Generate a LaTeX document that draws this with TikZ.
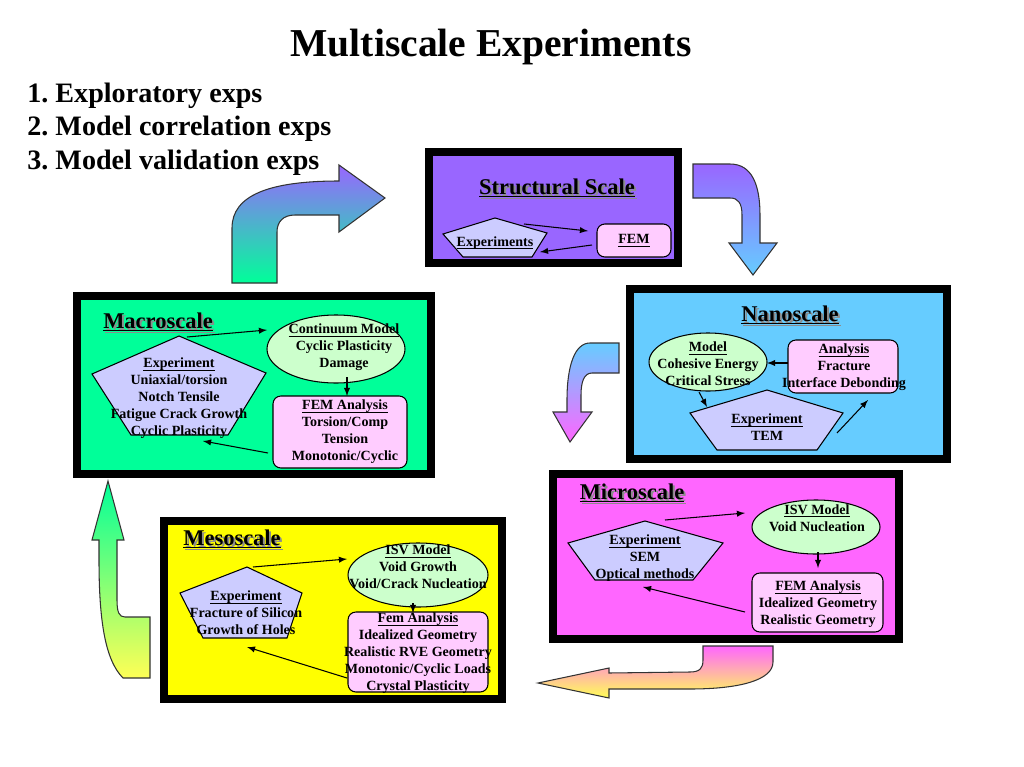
\documentclass[tikz,border=0pt]{standalone}
\usepackage{fontspec}
\setmainfont{Liberation Serif}
\frenchspacing
\definecolor{purp}{HTML}{9966FF}
\definecolor{nano}{HTML}{66CCFF}
\definecolor{macro}{HTML}{00FF99}
\definecolor{micro}{HTML}{FF66FF}
\definecolor{meso}{HTML}{FFFF00}
\definecolor{pent}{HTML}{CCCCFF}
\definecolor{ellc}{HTML}{CCFFCC}
\definecolor{boxc}{HTML}{FFCCFF}
\definecolor{lyel}{HTML}{FFFF55}
\newcommand{\boxfont}{\fontsize{8}{9.64}\selectfont\bfseries}
\newcommand{\ul}[1]{\underline{\smash{#1}}\vphantom{#1}}
\tikzset{
  txt/.style={align=center,font=\boxfont,inner sep=0pt},
  ttl/.style={font=\fontsize{12.8}{14}\selectfont\bfseries,inner sep=0pt},
  shd/.style={ttl,text=black!45},
  ell/.style={draw,fill=ellc,line width=0.6pt},
  rbox/.style={draw,fill=boxc,rounded corners=4.5pt,line width=0.6pt},
  pbox/.style={draw,fill=pent,line width=0.6pt},
  arr/.style={-latex,line width=0.6pt},
  bent/.style={draw=black!80,line width=0.6pt}
}
\begin{document}
\begin{tikzpicture}[x=0.02cm,y=-0.02cm]
\useasboundingbox (0,0) rectangle (1024,767);
\node[font=\fontsize{22.5}{26}\selectfont\bfseries] (title) at (491,47) {Multiscale Experiments};
\node[anchor=west,align=left,inner sep=0pt,font=\fontsize{16}{19}\selectfont\bfseries] (list) at (27,129) {1. Exploratory exps\\2. Model correlation exps\\3. Model validation exps};
% bent arrows
\shadedraw[bent,top color=purp,bottom color=macro] (232,283) -- (232,228) .. controls (232,195) and (270,181) .. (339,181) -- (339,165) -- (385,198) -- (339,232) -- (339,215) -- (295,215) .. controls (283,215) and (277,222) .. (277,232) -- (277,283) -- cycle;
\shadedraw[bent,top color=purp,bottom color=nano] (693,164) -- (730,164) .. controls (752,164) and (760,185) .. (760,215) -- (760,243) -- (777,243) -- (753,275) -- (729,243) -- (742,243) -- (742,215) .. controls (742,203) and (738,198) .. (730,198) -- (693,198) -- cycle;
\shadedraw[bent,top color=nano,bottom color=micro] (619,343) -- (590,343) .. controls (575,343) and (567,365) .. (567,400) -- (567,412) -- (553,412) -- (570,442) -- (592,412) -- (581,412) -- (581,395) .. controls (581,382) and (584,373) .. (592,373) -- (619,373) -- cycle;
\shadedraw[bent,top color=micro,bottom color=lyel] (703,646) -- (773,646) -- (773,662) .. controls (773,680) and (740,689) .. (690,689) -- (609,689) -- (609,698) -- (538,683) -- (609,668) -- (609,673) -- (690,672) .. controls (700,672) and (703,668) .. (703,660) -- cycle;
\shadedraw[bent,top color=macro,bottom color=lyel] (123,678) .. controls (105,660) and (99,620) .. (99,560) -- (99,540) -- (92,540) -- (108,481) -- (124,540) -- (117,540) -- (117,600) .. controls (117,612) and (119,617) .. (125,617) -- (150,617) -- (150,678) -- cycle;
% structural scale
\fill (425,148) rectangle (682,267);
\fill[purp] (433,156) rectangle (674,259);
\node[shd] at (559,190) {\ul{Structural Scale}};
\node[ttl] (st) at (557,188) {\ul{Structural Scale}};
\draw[pbox] (495,218) -- (547,233) -- (532,257) -- (463,257) -- (443,234) -- cycle;
\node[txt] (se) at (495,243) {\ul{Experiments}};
\draw[rbox] (597,224) rectangle (671,257);
\node[txt] (sf) at (634,241) {\ul{FEM}};
\coordinate (s1) at (524,224); \coordinate (s2) at (588,231);
\coordinate (s3) at (592,245); \coordinate (s4) at (540,252);
\draw[arr] (s1) -- (s2); \draw[arr] (s3) -- (s4);
% macroscale
\fill (73,292) rectangle (435,478);
\fill[macro] (81,300) rectangle (427,470);
\node[shd] at (160,324) {\ul{Macroscale}};
\node[ttl] (mt) at (158,322) {\ul{Macroscale}};
\draw[pbox] (179,336) -- (266,373) -- (228,435) -- (131,435) -- (92,374) -- cycle;
\node[txt] (me) at (179,398) {\ul{Experiment}\\Uniaxial/torsion\\Notch Tensile\\Fatigue Crack Growth\\Cyclic Plasticity};
\draw[ell] (336,349) ellipse [x radius=69,y radius=34];
\node[txt] (mm) at (344,347) {\ul{Continuum Model}\\Cyclic Plasticity\\Damage};
\draw[rbox] (273,396) rectangle (407,468);
\node[txt] (mf) at (345,432) {\ul{FEM Analysis}\\Torsion/Comp\\Tension\\Monotonic/Cyclic};
\coordinate (m1) at (187,337); \coordinate (m2) at (267,330);
\coordinate (m3) at (347,377); \coordinate (m4) at (347,396);
\coordinate (m5) at (268,453); \coordinate (m6) at (203,441);
\draw[arr] (m1) -- (m2); \draw[arr] (m3) -- (m4); \draw[arr] (m5) -- (m6);
% nanoscale
\fill (626,285) rectangle (951,463);
\fill[nano] (634,293) rectangle (943,455);
\node[shd] at (792,317) {\ul{Nanoscale}};
\node[ttl] (nt) at (790,315) {\ul{Nanoscale}};
\draw[ell] (708,362) ellipse [x radius=59,y radius=29];
\node[txt] (nm) at (708,364) {\ul{Model}\\Cohesive Energy\\Critical Stress};
\draw[rbox] (788,340) rectangle (898,393);
\node[txt] (na) at (844,367) {\ul{Analysis}\\Fracture\\Interface Debonding};
\draw[pbox] (767,390) -- (843,413) -- (817,450) -- (717,450) -- (690,413) -- cycle;
\node[txt] (ne) at (767,427) {\ul{Experiment}\\TEM};
\coordinate (n1) at (788,363); \coordinate (n2) at (767,363);
\coordinate (n3) at (699,392); \coordinate (n4) at (707,407);
\coordinate (n5) at (837,433); \coordinate (n6) at (868,400);
\draw[arr] (n1) -- (n2); \draw[arr] (n3) -- (n4); \draw[arr] (n5) -- (n6);
% microscale
\fill (549,470) rectangle (903,643);
\fill[micro] (557,478) rectangle (895,635);
\node[shd] at (634,495) {\ul{Microscale}};
\node[ttl] (it) at (632,493) {\ul{Microscale}};
\draw[ell] (816,527) ellipse [x radius=64,y radius=27];
\node[txt] (im) at (817,518) {\ul{ISV Model}\\Void Nucleation};
\draw[rbox] (752,573) rectangle (883,632);
\node[txt] (if) at (818,604) {\ul{FEM Analysis}\\Idealized Geometry\\Realistic Geometry};
\draw[pbox] (645,521) -- (723,543) -- (693,580) -- (595,580) -- (568,543) -- cycle;
\node[txt] (ie) at (645,558) {\ul{Experiment}\\SEM\\Optical methods};
\coordinate (i1) at (665,520); \coordinate (i2) at (745,513);
\coordinate (i3) at (818,552); \coordinate (i4) at (818,568);
\coordinate (i5) at (745,612); \coordinate (i6) at (643,587);
\draw[arr] (i1) -- (i2); \draw[arr] (i3) -- (i4); \draw[arr] (i5) -- (i6);
% mesoscale
\fill (160,517) rectangle (506,703);
\fill[meso] (168,525) rectangle (498,695);
\node[shd] at (234,541) {\ul{Mesoscale}};
\node[ttl] (et) at (232,539) {\ul{Mesoscale}};
\draw[ell] (418,575) ellipse [x radius=70,y radius=32];
\node[txt] (em) at (418,567) {\ul{ISV Model}\\Void Growth\\Void/Crack Nucleation};
\draw[pbox] (247,567) -- (302,593) -- (287,638) -- (203,638) -- (180,593) -- cycle;
\node[txt] (ee) at (246,613) {\ul{Experiment}\\Fracture of Silicon\\Growth of Holes};
\draw[rbox] (348,612) rectangle (488,692);
\node[txt] (ef) at (418,653) {\ul{Fem Analysis}\\Idealized Geometry\\Realistic RVE Geometry\\Monotonic/Cyclic Loads\\Crystal Plasticity};
\coordinate (e1) at (253,567); \coordinate (e2) at (347,559);
\coordinate (e3) at (413,603); \coordinate (e4) at (413,613);
\coordinate (e5) at (347,678); \coordinate (e6) at (247,647);
\draw[arr] (e1) -- (e2); \draw[arr] (e3) -- (e4); \draw[arr] (e5) -- (e6);
\end{tikzpicture}
\end{document}
